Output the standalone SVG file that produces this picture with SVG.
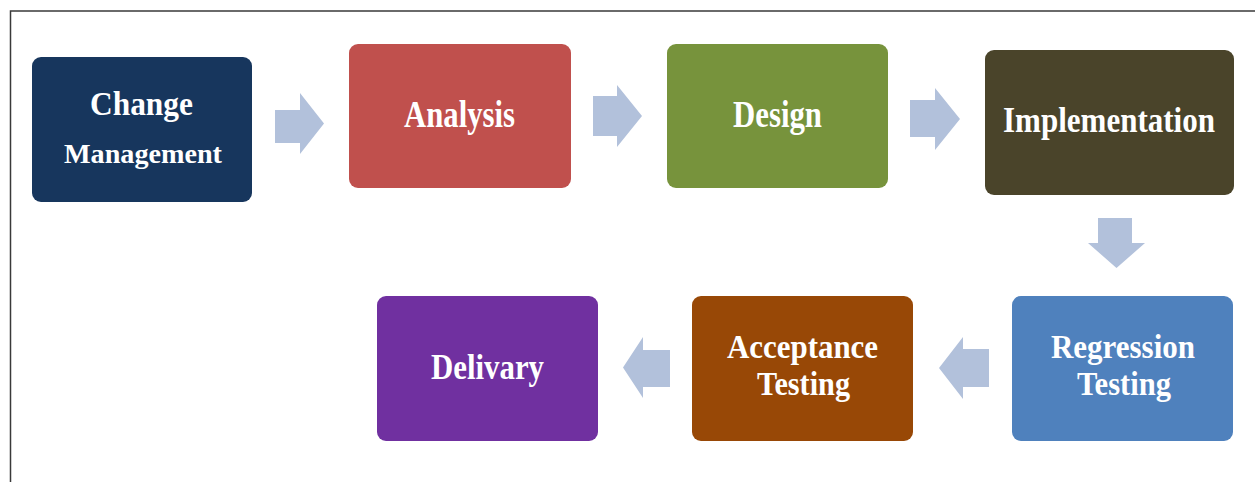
<svg xmlns="http://www.w3.org/2000/svg" width="1255" height="482" viewBox="0 0 1255 482">
  <style>
    .box { stroke: none; }
    .lbl { font-family: "Liberation Serif", "Times New Roman", serif; font-weight: bold; fill: #ffffff; }
    .arrow { fill: #B2C1DB; }
    .frame { fill: none; stroke: #3a3a3a; stroke-width: 1.5; }
  </style>

  <rect x="0" y="0" width="1255" height="482" fill="#ffffff"/>
  <!-- page frame: top and left edges -->
  <path class="frame" d="M10.5 482 V11 H1255"/>

  <!-- flow arrows -->
  <g id="connectors">
    <polygon class="arrow" points="275,110 300,110 300,93 324,123.5 300,154 300,143 275,143"/>
    <polygon class="arrow" points="593,96 617,96 617,85 642,116 617,147 617,136 593,136"/>
    <polygon class="arrow" points="910,100 935,100 935,88 960,119 935,150 935,137 910,137"/>
    <polygon class="arrow" points="1098,218 1132,218 1132,243 1145,243 1116.5,268 1088,243 1098,243"/>
    <polygon class="arrow" points="989,349 963,349 963,337 939,368 963,399 963,387 989,387"/>
    <polygon class="arrow" points="670,350 643,350 643,337 623,367.5 643,398 643,387 670,387"/>
  </g>

  <g id="change-management">
    <rect class="box" x="32" y="57" width="220" height="145" rx="9" fill="#17365D"/>
    <text class="lbl" x="90" y="115" font-size="34" textLength="103" lengthAdjust="spacingAndGlyphs">Change</text>
    <text class="lbl" x="64" y="163" font-size="27" textLength="158" lengthAdjust="spacingAndGlyphs">Management</text>
  </g>

  <g id="analysis">
    <rect class="box" x="349" y="44" width="222" height="144" rx="9" fill="#C0504D"/>
    <text class="lbl" x="404" y="127" font-size="37" textLength="111" lengthAdjust="spacingAndGlyphs">Analysis</text>
  </g>

  <g id="design">
    <rect class="box" x="667" y="44" width="221" height="144" rx="9" fill="#77933C"/>
    <text class="lbl" x="733" y="127" font-size="37" textLength="89" lengthAdjust="spacingAndGlyphs">Design</text>
  </g>

  <g id="implementation">
    <rect class="box" x="985" y="50" width="249" height="145" rx="9" fill="#4A442A"/>
    <text class="lbl" x="1003" y="132" font-size="36" textLength="212" lengthAdjust="spacingAndGlyphs">Implementation</text>
  </g>

  <g id="regression-testing">
    <rect class="box" x="1012" y="296" width="221" height="145" rx="9" fill="#4F81BD"/>
    <text class="lbl" x="1051" y="358" font-size="33" textLength="144" lengthAdjust="spacingAndGlyphs">Regression</text>
    <text class="lbl" x="1077" y="395" font-size="33" textLength="94" lengthAdjust="spacingAndGlyphs">Testing</text>
  </g>

  <g id="acceptance-testing">
    <rect class="box" x="692" y="296" width="221" height="145" rx="9" fill="#984806"/>
    <text class="lbl" x="727" y="358" font-size="33" textLength="151" lengthAdjust="spacingAndGlyphs">Acceptance</text>
    <text class="lbl" x="757" y="395" font-size="33" textLength="93" lengthAdjust="spacingAndGlyphs">Testing</text>
  </g>

  <g id="delivary">
    <rect class="box" x="377" y="296" width="221" height="145" rx="9" fill="#7030A0"/>
    <text class="lbl" x="431" y="379" font-size="36" textLength="113" lengthAdjust="spacingAndGlyphs">Delivary</text>
  </g>
</svg>
